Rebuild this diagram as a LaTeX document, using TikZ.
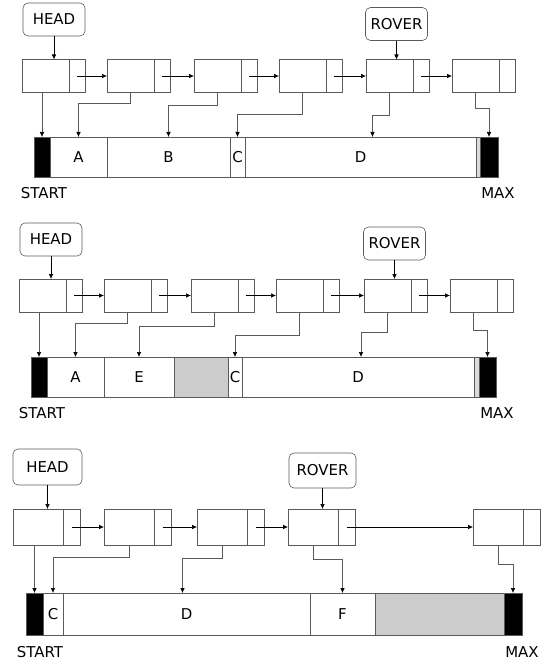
\documentclass[tikz,border=0pt]{standalone}
\usepackage{fontspec}
\setmainfont{DejaVu Sans}
\usetikzlibrary{arrows.meta,positioning}
\definecolor{edgeGrey}{HTML}{5A5A5A}
\definecolor{freeGrey}{HTML}{CCCCCC}
\definecolor{gapGrey}{HTML}{DADADA}

\tikzset{
  tag/.style={draw=edgeGrey,rounded corners=5bp,minimum width=62bp,minimum height=33bp,inner sep=0pt},
  dat/.style={draw=edgeGrey,minimum width=47bp,minimum height=33bp,inner sep=0pt,outer sep=0pt,anchor=north west},
  nxt/.style={draw=edgeGrey,minimum width=16bp,minimum height=33bp,inner sep=0pt,outer sep=0pt},
  seg/.style={draw=edgeGrey,minimum height=40bp,inner sep=0pt,outer sep=0pt},
  ptr/.style={draw=edgeGrey,-{Latex[length=5bp,width=4.5bp,color=black]}},
  link/.style={draw=black,-{Latex[length=5bp,width=4.5bp]}},
}

\begin{document}
\begin{tikzpicture}[x=1bp,y=-1bp,line width=0.6pt,every node/.style={font=\fontsize{15}{18}\selectfont}]
  \useasboundingbox (0,0) rectangle (544,661);

  % state 1
  \node[tag] (head1) at (54,19.5) {HEAD};
  \node[tag] (rover1) at (396.5,24) {ROVER};
  \foreach \i/\x in {1/22,2/107,3/194,4/279,5/366,6/452}{
    \node[dat] (a\i) at (\x,59.5) {};
    \node[nxt,right=0pt of a\i] (an\i) {};
  }
  \foreach \i/\j in {1/2,2/3,3/4,4/5,5/6}
    \draw[link] (an\i.center) -- (a\j.west);

  \node[seg,fill=black,minimum width=16bp,anchor=west] (as) at (34,157) {};
  \node[seg,minimum width=57bp,right=0pt of as] (aA) {A};
  \node[seg,minimum width=123bp,right=0pt of aA] (aB) {B};
  \node[seg,minimum width=15bp,right=0pt of aB] (aC) {C};
  \node[seg,minimum width=231bp,right=0pt of aC] (aD) {D};
  \node[seg,fill=gapGrey,minimum width=4bp,right=0pt of aD] (ag) {};
  \node[seg,fill=black,minimum width=18bp,right=0pt of ag] (am) {};
  \node (st1) at (44,193) {START};
  \node (mx1) at (498,193) {MAX};

  \draw[link] (head1.south) -- (head1.south |- a1.north);
  \draw[link] (rover1.south) -- (rover1.south |- a5.north);
  \draw[ptr] (as.north |- a1.south) -- (as.north);
  \draw[ptr] (a2.south) -- ++(0,11) -| (aA.north);
  \draw[ptr] (a3.south) -- ++(0,13) -| (aB.north);
  \draw[ptr] (a4.south) -- ++(0,22) -| (aC.north);
  \draw[ptr] (a5.south) -- ++(0,23) -| ([xshift=12bp]aD.north);
  \draw[ptr] (a6.south) -- ++(0,16) -| (am.north);

  % state 2
  \node[tag] (head2) at (51,239.5) {HEAD};
  \node[tag] (rover2) at (394.5,243.5) {ROVER};
  \foreach \i/\x in {1/19,2/104,3/191,4/276,5/364,6/450}{
    \node[dat] (b\i) at (\x,279) {};
    \node[nxt,right=0pt of b\i] (bn\i) {};
  }
  \foreach \i/\j in {1/2,2/3,3/4,4/5,5/6}
    \draw[link] (bn\i.center) -- (b\j.west);

  \node[seg,fill=black,minimum width=16bp,anchor=west] (bs) at (31,377) {};
  \node[seg,minimum width=57bp,right=0pt of bs] (bA) {A};
  \node[seg,minimum width=70bp,right=0pt of bA] (bE) {E};
  \node[seg,fill=freeGrey,minimum width=54bp,right=0pt of bE] (bf) {};
  \node[seg,minimum width=14bp,right=0pt of bf] (bC) {C};
  \node[seg,minimum width=232bp,right=0pt of bC] (bD) {D};
  \node[seg,fill=gapGrey,minimum width=5bp,right=0pt of bD] (bg) {};
  \node[seg,fill=black,minimum width=17bp,right=0pt of bg] (bm) {};
  \node (st2) at (42,413) {START};
  \node (mx2) at (497,413) {MAX};

  \draw[link] (head2.south) -- (head2.south |- b1.north);
  \draw[link] (rover2.south) -- (rover2.south |- b5.north);
  \draw[ptr] (bs.north |- b1.south) -- (bs.north);
  \draw[ptr] (b2.south) -- ++(0,11) -| (bA.north);
  \draw[ptr] (b3.south) -- ++(0,14) -| (bE.north);
  \draw[ptr] (b4.south) -- ++(0,23) -| (bC.north);
  \draw[ptr] (b5.south) -- ++(0,20) -| ([xshift=3bp]bD.north);
  \draw[ptr] (b6.south) -- ++(0,18) -| (bm.north);

  % state 3
  \node[tag,minimum width=69bp,minimum height=36bp] (head3) at (47.5,467) {HEAD};
  \node[tag,minimum width=67bp,minimum height=35bp] (rover3) at (322.5,470.5) {ROVER};
  \foreach \i/\x in {1/13,2/104,3/197,4/288,5/473}{
    \node[dat,minimum width=50bp,minimum height=36bp] (c\i) at (\x,509) {};
    \node[nxt,minimum width=17bp,minimum height=36bp,right=0pt of c\i] (cn\i) {};
  }
  \foreach \i/\j in {1/2,2/3,3/4,4/5}
    \draw[link] (cn\i.center) -- (c\j.west);

  \node[seg,fill=black,minimum height=42bp,minimum width=17bp,anchor=west] (cs) at (26,614) {};
  \node[seg,minimum height=42bp,minimum width=20bp,right=0pt of cs] (cC) {C};
  \node[seg,minimum height=42bp,minimum width=247bp,right=0pt of cC] (cD) {D};
  \node[seg,minimum height=42bp,minimum width=65bp,right=0pt of cD] (cF) {F};
  \node[seg,fill=freeGrey,minimum height=42bp,minimum width=129bp,right=0pt of cF] (cf) {};
  \node[seg,fill=black,minimum height=42bp,minimum width=18bp,right=0pt of cf] (cm) {};
  \node (st3) at (40,652) {START};
  \node (mx3) at (522,652) {MAX};

  \draw[link] (head3.south) -- (head3.south |- c1.north);
  \draw[link] (rover3.south) -- (rover3.south |- c4.north);
  \draw[ptr] (cs.north |- c1.south) -- (cs.north);
  \draw[ptr] (c2.south) -- ++(0,12) -| (cC.north);
  \draw[ptr] (c3.south) -- ++(0,13) -| ([xshift=-4bp]cD.north);
  \draw[ptr] (c4.south) -- ++(0,14) -| (cF.north);
  \draw[ptr] (c5.south) -- ++(0,19) -| (cm.north);
\end{tikzpicture}
\end{document}
